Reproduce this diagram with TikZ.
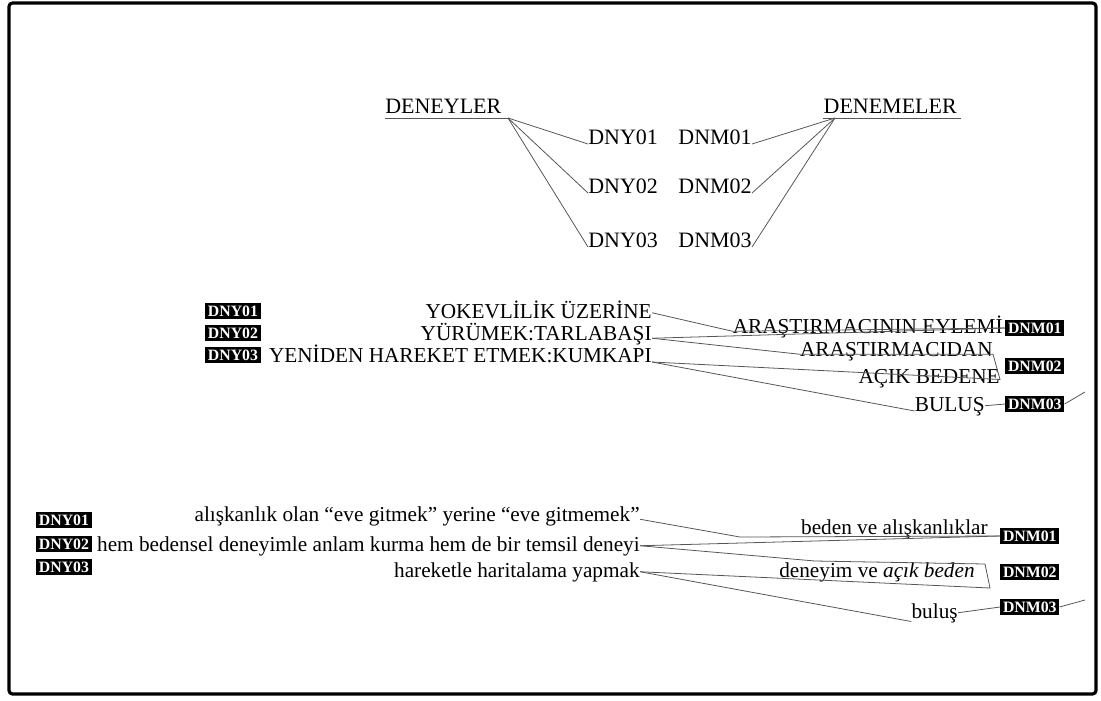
\documentclass[tikz,border=0pt]{standalone}
\usepackage{fontspec}
\setmainfont{Liberation Serif}
\usepackage{xcolor}
\definecolor{link-grey}{HTML}{555555}

\begin{document}
\begin{tikzpicture}[x=0.02cm, y=-0.02cm,
    every node/.style={inner sep=0pt, font=\fontsize{12.1}{14}\selectfont},
    badge/.style={fill=black, text=white, inner xsep=1.5pt, inner ysep=1.3pt,
      font=\bfseries\fontsize{9}{10}\selectfont},
    link/.style={draw=link-grey, line width=0.45pt}]
  \useasboundingbox (0,0) rectangle (1101,700);
  \draw[line width=1.8pt, rounded corners=2pt] (9,3) rectangle (1096,694);

  % top: the two groups
  \node[anchor=base west, font=\fontsize{12.5}{14}\selectfont] (deneyler) at (385,113) {DENEYLER};
  \node[anchor=base east, font=\fontsize{12.5}{14}\selectfont] (denemeler) at (957,113) {DENEMELER};
  \coordinate (fanL) at (508,118);
  \coordinate (fanR) at (835,118);
  \draw[link] (deneyler.west |- fanL) -- (fanL);
  \draw[link] (denemeler.west |- fanR) -- ([xshift=2pt]denemeler.east |- fanR);
  \foreach \i/\y in {1/144, 2/193, 3/247} {
    \node[anchor=base west, font=\fontsize{12.5}{14}\selectfont] (dny\i) at (588,\y) {DNY0\i};
    \node[anchor=base east, font=\fontsize{12.5}{14}\selectfont] (dnm\i) at (752,\y) {DNM0\i};
    \draw[link] (fanL) -- (dny\i.base west);
    \draw[link] (fanR) -- (dnm\i.base east);
  }

  % middle: titles
  \foreach \i/\y in {1/311, 2/333, 3/355}
    \node[badge, anchor=west] (mdny\i) at (205,\y) {DNY0\i};
  \node[anchor=base east] (mt1) at (652,318) {YOKEVLİLİK ÜZERİNE};
  \node[anchor=base east] (mt2) at (652,340) {YÜRÜMEK:TARLABAŞI};
  \node[anchor=base east] (mt3) at (652,362) {YENİDEN HAREKET ETMEK:KUMKAPI};
  \node[anchor=base east] (mr1) at (1003,333) {ARAŞTIRMACININ EYLEMİ};
  \node[anchor=base east] (mr2a) at (993,356) {ARAŞTIRMACIDAN};
  \node[anchor=base east] (mr2b) at (1000,383) {AÇIK BEDENE};
  \node[anchor=base east] (mr3) at (985,411) {BULUŞ};
  \foreach \i/\y in {1/328, 2/366, 3/404}
    \node[badge, anchor=west] (mdnm\i) at (1005,\y) {DNM0\i};
  \coordinate (mout) at (1085,392);
  \draw[link] ([yshift=3pt]mt1.base east) -- ([yshift=1pt]mr1.base west) -- (mdnm1.west);
  \draw[link] ([yshift=1pt]mt2.base east) -- (mdnm1.west);
  \draw[link] ([yshift=1pt]mt2.base east) -- ([yshift=1pt]mr2a.base west)
    -- ([yshift=1pt]mr2a.base east) -- ([yshift=2pt]mr2b.base east) -- (mt3.base east);
  \draw[link] (mt3.base east) -- (mr3.base west);
  \draw[link] ([yshift=3pt]mr3.base east) -- (mdnm3.west);
  \draw[link] (mdnm3.east) -- (mout);

  % bottom: notes
  \foreach \i/\y in {1/520, 2/544, 3/567}
    \node[badge, anchor=west] (bdny\i) at (36,\y) {DNY0\i};
  \node[anchor=base east] (bt1) at (640,521) {alışkanlık olan “eve gitmek” yerine “eve gitmemek”};
  \node[anchor=base east] (bt2) at (640,551) {hem bedensel deneyimle anlam kurma hem de bir temsil deneyi};
  \node[anchor=base east] (bt3) at (640,577) {hareketle haritalama yapmak};
  \node[anchor=base east] (br1) at (988,534) {beden ve alışkanlıklar};
  \node[anchor=base east] (br2) at (975,577) {deneyim ve \textit{açık beden}};
  \node[anchor=base east] (br3) at (958,618) {buluş};
  \foreach \i/\y in {1/536, 2/572, 3/607}
    \node[badge, anchor=west] (bdnm\i) at (1000,\y) {DNM0\i};
  \coordinate (bk1) at (740,537);
  \coordinate (bk2) at (815,561);
  \coordinate (bk3) at (985,564);
  \coordinate (bk4) at (990,588);
  \coordinate (bout) at (1085,600);
  \draw[link] ([yshift=1pt]bt1.base east) -- (bk1) -- (bdnm1.west);
  \draw[link] ([yshift=3pt]bt2.base east) -- (bdnm1.west);
  \draw[link] ([yshift=3pt]bt2.base east) -- (bk2) -- (bk3) -- (bk4) -- ([yshift=3pt]bt3.base east);
  \draw[link] ([yshift=3pt]bt3.base east) -- ([yshift=-2pt]br3.base west);
  \draw[link] ([yshift=3pt]br3.base east) -- (bdnm3.west);
  \draw[link] (bdnm3.east) -- (bout);
\end{tikzpicture}
\end{document}
